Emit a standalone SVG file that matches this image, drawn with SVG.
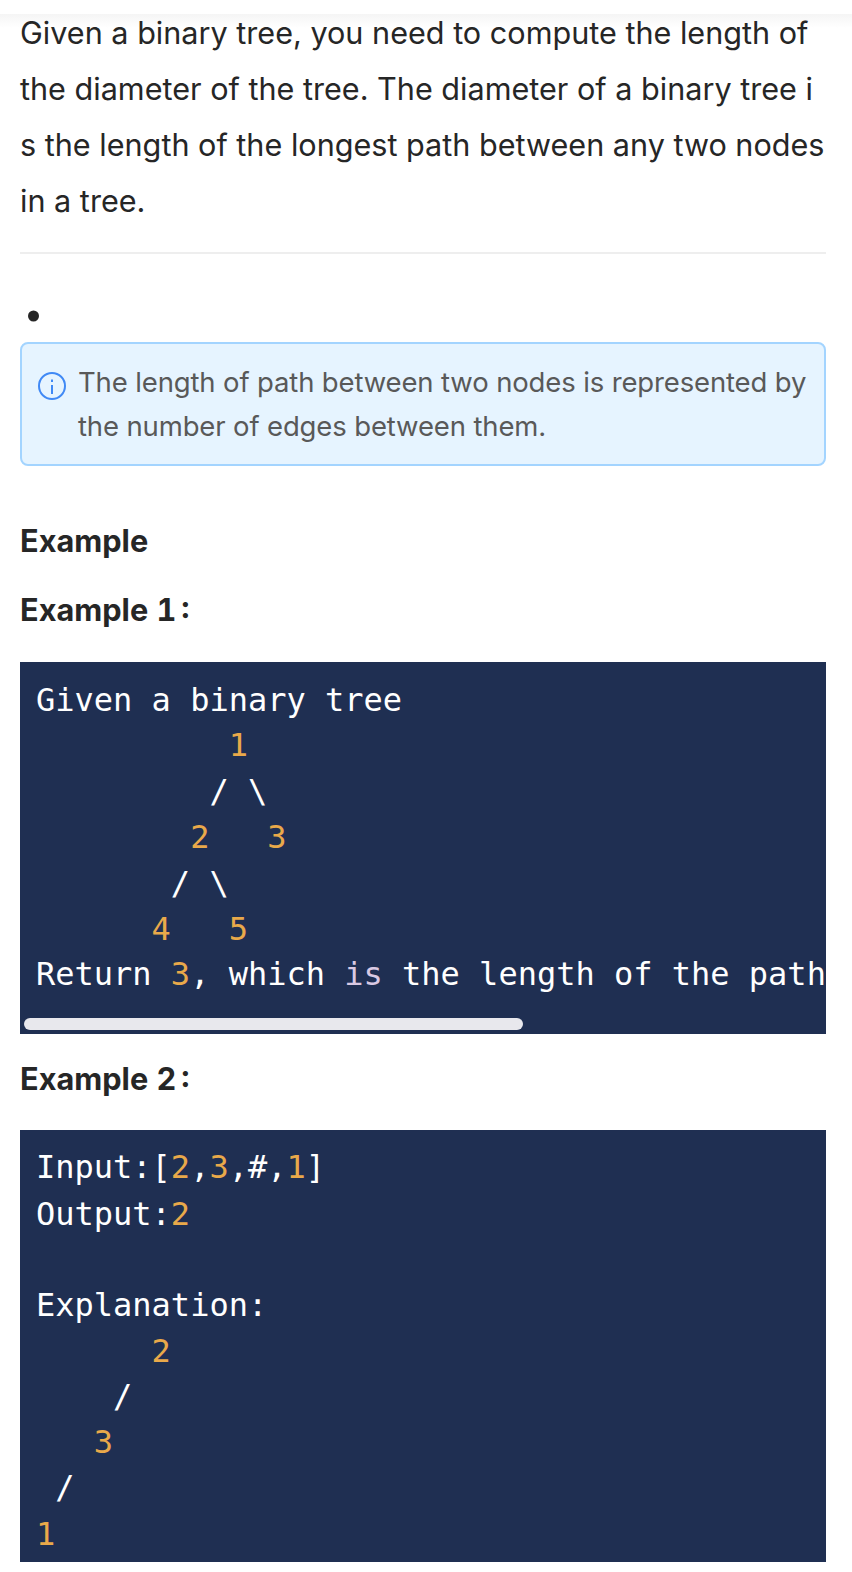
<svg xmlns="http://www.w3.org/2000/svg" width="852" height="1572" viewBox="0 0 852 1572">
<defs>
<linearGradient id="topfade" x1="0" y1="0" x2="0" y2="1"><stop offset="0" stop-color="#f5f5f5"/><stop offset="1" stop-color="#ffffff"/></linearGradient>
<clipPath id="clip1"><rect x="20" y="662" width="806" height="372"/></clipPath>
</defs>
<style>
.body{font-family:Inter,"Liberation Sans",sans-serif;font-size:30.6px;fill:#262626}
.note{font-family:Inter,"Liberation Sans",sans-serif;font-size:27.5px;letter-spacing:-0.14px;fill:#595959}
.head{font-family:Inter,"Liberation Sans",sans-serif;font-size:30.7px;font-weight:700;fill:#262626;font-variant-numeric:tabular-nums;font-kerning:none}
.code{font-family:"DejaVu Sans Mono",monospace;font-size:32px;fill:#ffffff;white-space:pre}
.n{fill:#e9a94a}
.k{fill:#d9c9e3}
.block{fill:#1f2f52}
</style>
<rect width="852" height="1572" fill="#ffffff"/>
<rect x="0" y="14" width="852" height="14" fill="url(#topfade)"/>
<g id="intro">
<text class="body" x="20" y="43.500">Given a binary tree, you need to compute the length of</text>
<text class="body" x="20" y="99.500">the diameter of the tree. The diameter of a binary tree i</text>
<text class="body" x="20" y="155.500">s the length of the longest path between any two nodes</text>
<text class="body" x="20" y="211.500">in a tree.</text>
</g>
<rect id="divider" x="20" y="252" width="806" height="2" fill="#eeeeee"/>
<circle id="bullet" cx="33.5" cy="316" r="5.5" fill="#262626"/>
<g id="notice">
<rect x="21" y="343" width="804" height="122" rx="7" fill="#e6f4ff" stroke="#a3d4ff" stroke-width="2"/>
<circle cx="52" cy="386" r="13" fill="none" stroke="#4089f5" stroke-width="2"/>
<rect x="51" y="385" width="2" height="9" fill="#4089f5"/>
<rect x="51" y="379.500" width="2" height="2.500" fill="#4089f5"/>
<text class="note" x="78" y="392">The length of path between two nodes is represented by</text>
<text class="note" x="78" y="436">the number of edges between them.</text>
</g>
<g id="headings">
<text class="head" x="20" y="551.500">Example</text>
<text class="head" x="20" y="621">Example 1<tspan dx="5">:</tspan></text>
<text class="head" x="20" y="1090">Example 2<tspan dx="5">:</tspan></text>
</g>
<g id="code1">
<rect class="block" x="20" y="662" width="806" height="372"/>
<g clip-path="url(#clip1)">
<text class="code" x="36" y="710.500">Given a binary tree</text>
<text class="code" x="36" y="756.300" xml:space="preserve">          <tspan class="n">1</tspan></text>
<text class="code" x="36" y="802" xml:space="preserve">         / \</text>
<text class="code" x="36" y="848" xml:space="preserve">        <tspan class="n">2</tspan>   <tspan class="n">3</tspan></text>
<text class="code" x="36" y="894" xml:space="preserve">       / \</text>
<text class="code" x="36" y="940" xml:space="preserve">      <tspan class="n">4</tspan>   <tspan class="n">5</tspan></text>
<text class="code" x="36" y="985" xml:space="preserve">Return <tspan class="n">3</tspan>, which <tspan class="k">is</tspan> the length of the path</text>
</g>
<rect x="24" y="1018" width="499" height="12" rx="6" fill="#e8e8ed"/>
</g>
<g id="code2">
<rect class="block" x="20" y="1130" width="806" height="432"/>
<text class="code" x="36" y="1178">Input:[<tspan class="n">2</tspan>,<tspan class="n">3</tspan>,#,<tspan class="n">1</tspan>]</text>
<text class="code" x="36" y="1225">Output:<tspan class="n">2</tspan></text>
<text class="code" x="36" y="1316">Explanation:</text>
<text class="code" x="36" y="1362" xml:space="preserve">      <tspan class="n">2</tspan></text>
<text class="code" x="36" y="1407" xml:space="preserve">    /</text>
<text class="code" x="36" y="1453" xml:space="preserve">   <tspan class="n">3</tspan></text>
<text class="code" x="36" y="1498" xml:space="preserve"> /</text>
<text class="code" x="36" y="1545"><tspan class="n">1</tspan></text>
</g>
</svg>
